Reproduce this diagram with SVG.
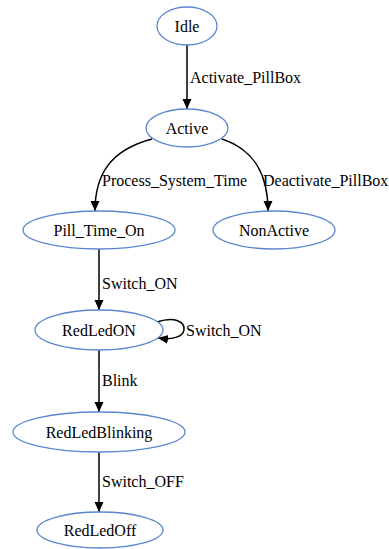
<svg xmlns="http://www.w3.org/2000/svg" width="389" height="549" viewBox="0 0 389 549">
<defs>
<marker id="arr" viewBox="0 0 10 10" refX="10" refY="5" markerWidth="10" markerHeight="10" markerUnits="userSpaceOnUse" orient="auto">
<path d="M0,0.5 L10,5 L0,9.5 Z" fill="#000"/>
</marker>
<style>
.n ellipse{fill:#fff;stroke:#5a86d0;stroke-width:1.3}
.n text{text-anchor:middle}
.e path{fill:none;stroke:#000;stroke-width:1.5;marker-end:url(#arr)}
</style>
</defs>
<rect width="389" height="549" fill="#fff"/>
<g font-family="Liberation Serif, Times New Roman, serif" font-size="16" fill="#000">
<g id="connectors" class="e">
<path d="M187,44 L187,109"/>
<path d="M152,139 C110,150 95,175 95,211"/>
<path d="M222,139 C255,150 268,175 268,211"/>
<path d="M99,249 L99,310"/>
<path d="M157,322 C175,316 185,322 184,330 C183,337 172,340 158,338"/>
<path d="M99,350 L99,412"/>
<path d="M99,452 L99,512"/>
</g>
<g id="labels">
<text x="190" y="83">Activate_PillBox</text>
<text x="102" y="186">Process_System_Time</text>
<text x="263" y="186">Deactivate_PillBox</text>
<text x="102" y="289">Switch_ON</text>
<text x="186" y="336">Switch_ON</text>
<text x="102" y="386">Blink</text>
<text x="102" y="487">Switch_OFF</text>
</g>
<g id="Idle" class="n"><ellipse cx="187" cy="26" rx="30" ry="19"/><text x="187" y="31.5">Idle</text></g>
<g id="Active" class="n"><ellipse cx="187" cy="128" rx="41" ry="19"/><text x="187" y="133.5">Active</text></g>
<g id="Pill_Time_On" class="n"><ellipse cx="99" cy="230" rx="76" ry="19"/><text x="99" y="235.5">Pill_Time_On</text></g>
<g id="NonActive" class="n"><ellipse cx="274" cy="230" rx="61" ry="19"/><text x="274" y="235.5">NonActive</text></g>
<g id="RedLedON" class="n"><ellipse cx="99" cy="330" rx="64" ry="20"/><text x="99" y="335.5">RedLedON</text></g>
<g id="RedLedBlinking" class="n"><ellipse cx="99" cy="432" rx="86" ry="20"/><text x="99" y="437.5">RedLedBlinking</text></g>
<g id="RedLedOff" class="n"><ellipse cx="100" cy="530" rx="63" ry="18"/><text x="100" y="535.5">RedLedOff</text></g>
</g>
</svg>
